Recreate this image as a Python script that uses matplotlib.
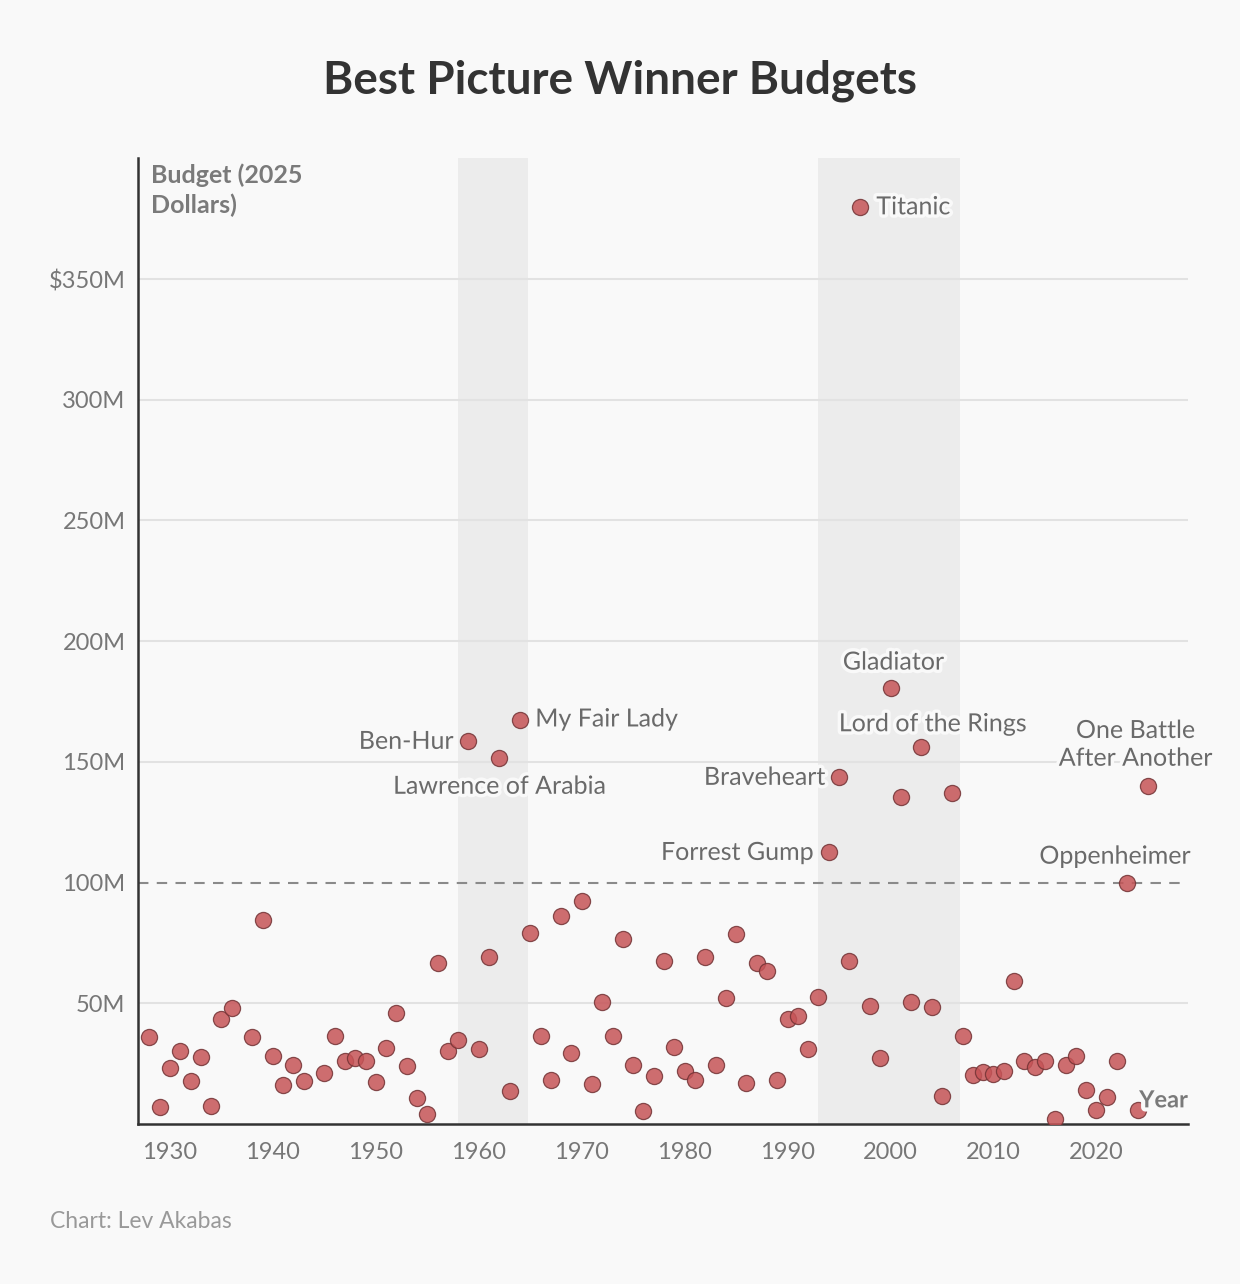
import matplotlib.pyplot as plt
import matplotlib.patheffects as pe

plt.rcParams['font.family'] = ['Lato', 'DejaVu Sans']

# budget of each Best Picture winner, millions of 2025 dollars
years = [1928, 1929, 1930, 1931, 1932, 1933, 1934, 1935, 1936, 1938, 1939,
         1940, 1941, 1942, 1943, 1945, 1946, 1947, 1948, 1949,
         1950, 1951, 1952, 1953, 1954, 1955, 1956, 1957, 1958, 1959,
         1960, 1961, 1962, 1963, 1964, 1965, 1966, 1967, 1968, 1969,
         1970, 1971, 1972, 1973, 1974, 1975, 1976, 1977, 1978, 1979,
         1980, 1981, 1982, 1983, 1984, 1985, 1986, 1987, 1988, 1989,
         1990, 1991, 1992, 1993, 1994, 1995, 1996, 1997, 1998, 1999,
         2000, 2001, 2002, 2003, 2004, 2005, 2006, 2007, 2008, 2009,
         2010, 2011, 2012, 2013, 2014, 2015, 2016, 2017, 2018, 2019,
         2020, 2021, 2022, 2023, 2024, 2025]
budgets = [36.0, 6.9, 23.0, 30.2, 17.8, 27.7, 7.4, 43.5, 48.0, 36.1, 84.4,
           28.2, 16.0, 24.4, 17.8, 21.2, 36.5, 26.0, 27.4, 26.0,
           17.3, 31.4, 46.0, 24.1, 10.6, 4.1, 66.7, 30.3, 35.0, 158.5,
           31.0, 69.0, 151.4, 13.5, 167.2, 79.1, 36.4, 18.2, 86.3, 29.3,
           92.5, 16.5, 50.5, 36.4, 76.5, 24.4, 5.5, 19.8, 67.5, 31.7,
           22.0, 18.2, 69.2, 24.3, 52.4, 78.6, 16.8, 66.5, 63.4, 18.2,
           43.4, 44.7, 31.0, 52.6, 112.5, 143.6, 67.7, 379.9, 48.8, 27.4,
           180.4, 135.3, 50.7, 156.0, 48.4, 11.4, 137.0, 36.4, 20.4, 21.4,
           20.9, 21.8, 59.3, 26.3, 23.7, 26.0, 2.0, 24.4, 28.2, 14.2,
           6.0, 11.0, 25.9, 100.0, 6.0, 140.0]

# highlighted eras
spans = [(1958, 1964.75), (1993, 2006.75)]

# year -> (label, x offset, y offset in points, ha, va)
labels = {
    1959: ("Ben-Hur", -11, 0, 'right', 'center'),
    1962: ("Lawrence of Arabia", 0, -20, 'center', 'center'),
    1964: ("My Fair Lady", 11, 1, 'left', 'center'),
    1994: ("Forrest Gump", -11, 0, 'right', 'center'),
    1995: ("Braveheart", -10, 0, 'right', 'center'),
    1997: ("Titanic", 12, 0, 'left', 'center'),
    2000: ("Gladiator", 2, 19, 'center', 'center'),
    2003: ("Lord of the Rings", 8, 17, 'center', 'center'),
    2023: ("Oppenheimer", -9, 19, 'center', 'center'),
    2025: ("One Battle\nAfter Another", -9, 30, 'center', 'center'),
}

yticks = [50, 100, 150, 200, 250, 300, 350]
ytick_labels = ["50M", "100M", "150M", "200M", "250M", "300M", "$350M"]
xticks = [1930, 1940, 1950, 1960, 1970, 1980, 1990, 2000, 2010, 2020]

bg = '#f9f9f9'
fig = plt.figure(figsize=(12.4, 12.84), dpi=100, facecolor=bg)
ax = fig.add_axes([0.1113, 0.1246, 0.8468, 0.7521])
ax.set_facecolor(bg)

for x0, x1 in spans:
    ax.axvspan(x0, x1, color='#ececec', zorder=0, lw=0)

for y in yticks:
    if y == 100:
        ax.axhline(y, color='#8a8a8a', lw=1.5, ls=(0, (5, 4)), zorder=1)
    else:
        ax.axhline(y, color='#e2e2e2', lw=1.5, zorder=1)

ax.scatter(years, budgets, s=135, color='#c65457', alpha=0.85,
           edgecolors='#733335', linewidths=0.9, zorder=3)

halo = [pe.withStroke(linewidth=5, foreground=bg)]
for yr, (txt, dx, dy, ha, va) in labels.items():
    val = budgets[years.index(yr)]
    ax.annotate(txt, (yr, val), xytext=(dx, dy), textcoords='offset points',
                ha=ha, va=va, fontsize=18, color='#6a6a6a',
                linespacing=1.25, path_effects=halo, zorder=4)

ax.set_xlim(1926.9, 2028.9)
ax.set_ylim(0, 400)
ax.set_xticks(xticks)
ax.set_yticks(yticks)
ax.set_yticklabels(ytick_labels)
ax.tick_params(length=0, labelsize=17, labelcolor='#777777')
ax.tick_params(axis='x', pad=13)
ax.tick_params(axis='y', pad=9)

for side in ['top', 'right']:
    ax.spines[side].set_visible(False)
for side in ['left', 'bottom']:
    ax.spines[side].set_color('#333333')
    ax.spines[side].set_linewidth(1.8)

ax.text(0.012, 0.995, "Budget (2025\nDollars)", transform=ax.transAxes,
        ha='left', va='top', fontsize=18, fontweight='bold', color='#7a7a7a',
        linespacing=1.35)
ax.text(1.0, 0.025, "Year", transform=ax.transAxes, ha='right', va='center',
        fontsize=17, fontweight='bold', color='#7a7a7a',
        path_effects=[pe.withStroke(linewidth=6, foreground=bg)], zorder=5)

fig.text(0.5, 0.937, "Best Picture Winner Budgets", ha='center', va='center',
         fontsize=33, fontweight='bold', color='#333333')
fig.text(0.04, 0.049, "Chart: Lev Akabas", ha='left', va='center',
         fontsize=16.5, color='#999999')

fig.savefig('out.png', dpi=100, facecolor=bg)
